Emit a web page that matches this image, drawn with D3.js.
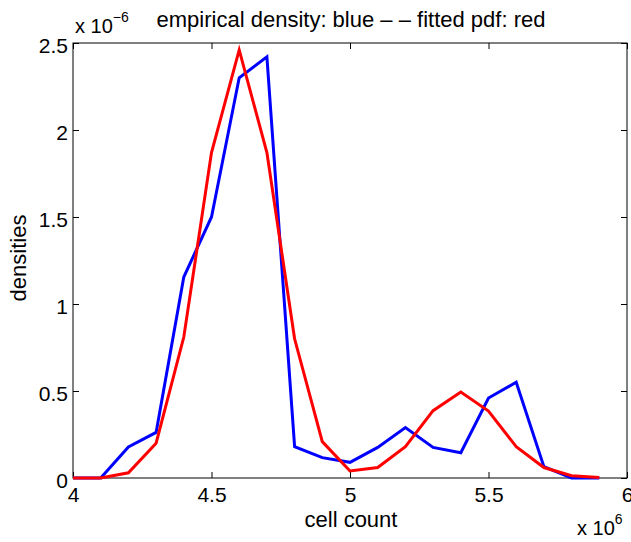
<!DOCTYPE html>
<html><head><meta charset="utf-8">
<script src="https://cdn.jsdelivr.net/npm/d3@7"></script>
<style>body{margin:0;background:#fff}svg{display:block}text{font-family:"Liberation Sans",Arial,Helvetica,sans-serif;fill:#000}</style>
</head><body><svg id="c" width="631" height="542"></svg>
<script>
const xValues = [4.0,4.1,4.2,4.3,4.4,4.5,4.6,4.7,4.8,4.9,5.0,5.1,5.2,5.3,5.4,5.5,5.6,5.7,5.8,5.9];
const empirical = [0,0,0.178,0.262,1.155,1.50,2.30,2.42,0.18,0.117,0.09,0.176,0.29,0.176,0.145,0.46,0.55,0.065,0,0];
const fitted = [0,0,0.03,0.20,0.81,1.87,2.46,1.87,0.80,0.209,0.04,0.06,0.18,0.387,0.494,0.385,0.18,0.06,0.013,0.003];
const xTicks = [4,4.5,5,5.5,6];
const yTicks = [0,0.5,1,1.5,2,2.5];
const title = "empirical density: blue \u2013 \u2013 fitted pdf: red";

const svg = d3.select("#c");
const m = {l:73, r:627, t:43, b:478};
const x = d3.scaleLinear().domain([4,6]).range([m.l,m.r]);
const y = d3.scaleLinear().domain([0,2.5]).range([m.b,m.t]);

svg.append("rect").attr("x",m.l).attr("y",m.t).attr("width",m.r-m.l).attr("height",m.b-m.t)
  .attr("fill","none").attr("stroke","#000").attr("stroke-width",1);

const fmt = d => String(d);
const gb = svg.append("g").attr("transform",`translate(0,${m.b})`)
  .call(d3.axisBottom(x).tickValues(xTicks).tickFormat(fmt).tickSizeInner(-6).tickSizeOuter(0));
const gt = svg.append("g").attr("transform",`translate(0,${m.t})`)
  .call(d3.axisTop(x).tickValues(xTicks).tickFormat("").tickSizeInner(-6).tickSizeOuter(0));
const gl = svg.append("g").attr("transform",`translate(${m.l},0)`)
  .call(d3.axisLeft(y).tickValues(yTicks).tickFormat(fmt).tickSizeInner(-6).tickSizeOuter(0));
const gr = svg.append("g").attr("transform",`translate(${m.r},0)`)
  .call(d3.axisRight(y).tickValues(yTicks).tickFormat("").tickSizeInner(-6).tickSizeOuter(0));
[gb,gt,gl,gr].forEach(g=>{g.select(".domain").remove();g.selectAll("line").attr("stroke","#000");});
gb.selectAll("text").attr("font-size",21).attr("fill","#000").attr("y",24).attr("dy",0);
gl.selectAll("text").attr("font-size",21).attr("fill","#000").attr("x",-5).attr("dy","0.43em");

const line = d3.line().x((d,i)=>x(xValues[i])).y(d=>y(d));
svg.append("path").datum(empirical).attr("d",line).attr("fill","none").attr("stroke","#0000ff").attr("stroke-width",3).attr("stroke-linejoin","miter");
svg.append("path").datum(fitted).attr("d",line).attr("fill","none").attr("stroke","#ff0000").attr("stroke-width",3).attr("stroke-linejoin","miter");

svg.append("text").attr("x",351).attr("y",27).attr("text-anchor","middle").attr("font-size",22).text(title);
const e1 = svg.append("text").attr("x",75).attr("y",33).attr("font-size",20);
e1.append("tspan").text("x 10");
e1.append("tspan").attr("font-size",14).attr("dy",-11).text("\u22126");
svg.append("text").attr("x",351).attr("y",527).attr("text-anchor","middle").attr("font-size",22).text("cell count");
const e2 = svg.append("text").attr("x",577).attr("y",535).attr("font-size",20);
e2.append("tspan").text("x 10");
e2.append("tspan").attr("font-size",14).attr("dy",-11).text("6");
svg.append("text").attr("transform","translate(26,258) rotate(-90)").attr("text-anchor","middle").attr("font-size",22).text("densities");
</script></body></html>
